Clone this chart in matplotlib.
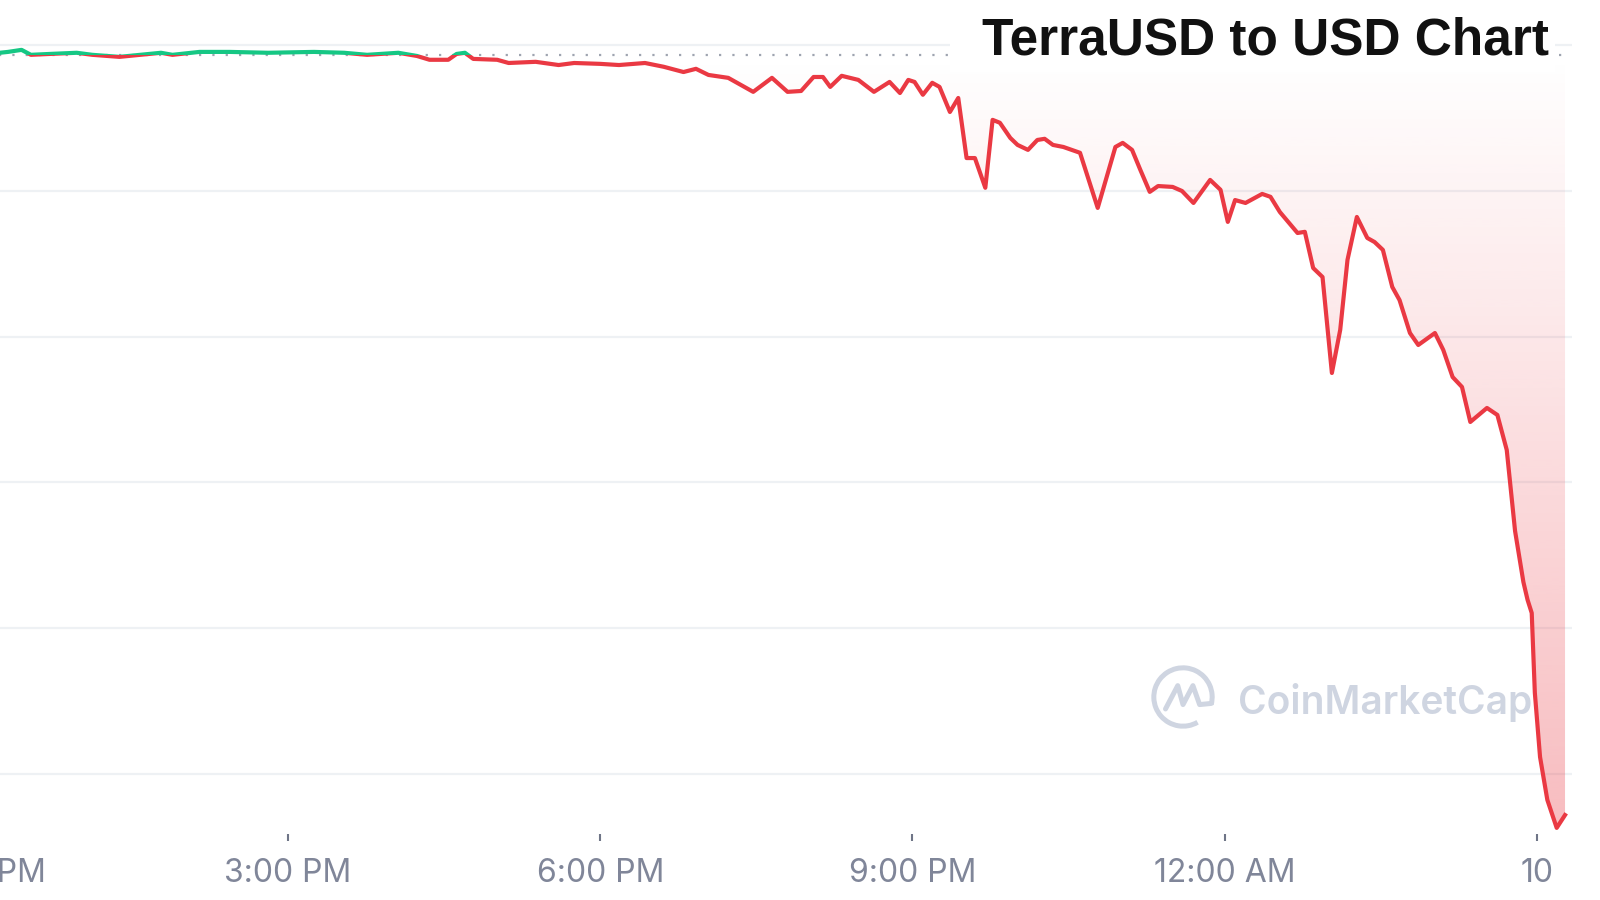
import numpy as np
import matplotlib.pyplot as plt
from matplotlib.patches import Rectangle, Arc
from matplotlib.colors import to_rgb

# hours after 12:00 PM, price in USD
hours = [0.23, 0.31, 0.44, 0.53, 0.71, 0.97, 1.12, 1.38, 1.78, 1.89,
         2.15, 2.44, 2.81, 3.25, 3.54, 3.76, 4.06, 4.24, 4.36, 4.54,
         4.62, 4.70, 4.78, 5.01, 5.12, 5.38, 5.60, 5.75, 6.00, 6.18,
         6.43, 6.61, 6.80, 6.92, 7.04, 7.23, 7.47, 7.65, 7.80, 7.93,
         8.05, 8.14, 8.21, 8.32, 8.48, 8.63, 8.78, 8.88, 8.96, 9.02,
         9.10, 9.19, 9.26, 9.36, 9.44, 9.52, 9.60, 9.70, 9.77, 9.84,
         9.94, 10.01, 10.11, 10.20, 10.27, 10.35, 10.45, 10.61, 10.78, 10.95,
         11.02, 11.11, 11.19, 11.28, 11.36, 11.50, 11.59, 11.70, 11.86, 11.96,
         12.03, 12.10, 12.20, 12.36, 12.44, 12.53, 12.70, 12.77, 12.85, 12.94,
         13.03, 13.11, 13.18, 13.27, 13.37, 13.44, 13.52, 13.61, 13.68, 13.78,
         13.86, 14.02, 14.10, 14.19, 14.28, 14.36, 14.52, 14.62, 14.71, 14.79,
         14.87, 14.91, 14.95, 14.98, 15.03, 15.10, 15.19, 15.27]
price = [0.9973, 0.9976, 0.9983, 0.9966, 0.9969, 0.9973, 0.9966, 0.9959, 0.9973, 0.9966,
         0.9976, 0.9976, 0.9973, 0.9976, 0.9973, 0.9966, 0.9973, 0.9962, 0.9949, 0.9949,
         0.9969, 0.9973, 0.9952, 0.9949, 0.9938, 0.9942, 0.9931, 0.9938, 0.9935, 0.9931,
         0.9938, 0.9925, 0.9907, 0.9918, 0.9897, 0.9887, 0.9839, 0.9887, 0.9839, 0.9842,
         0.9890, 0.9890, 0.9856, 0.9894, 0.9880, 0.9839, 0.9873, 0.9835, 0.9880, 0.9873,
         0.9829, 0.9870, 0.9856, 0.9770, 0.9818, 0.9612, 0.9612, 0.9510, 0.9743, 0.9733,
         0.9681, 0.9657, 0.9640, 0.9674, 0.9678, 0.9657, 0.9650, 0.9630, 0.9441, 0.9650,
         0.9664, 0.9640, 0.9571, 0.9496, 0.9516, 0.9513, 0.9499, 0.9458, 0.9537, 0.9503,
         0.9393, 0.9468, 0.9458, 0.9489, 0.9479, 0.9427, 0.9355, 0.9359, 0.9235, 0.9204,
         0.8875, 0.9023, 0.9263, 0.9410, 0.9338, 0.9324, 0.9297, 0.9170, 0.9125, 0.9012,
         0.8971, 0.9012, 0.8954, 0.8861, 0.8827, 0.8707, 0.8755, 0.8731, 0.8611, 0.8333,
         0.8158, 0.8097, 0.8052, 0.7778, 0.7558, 0.7411, 0.7315, 0.7359]
open_price = 0.9964

tick_hours = [0, 3, 6, 9, 12, 15]
tick_labels = ["12:00 PM", "3:00 PM", "6:00 PM", "9:00 PM", "12:00 AM", "10"]
grid_levels = [1.00, 0.95, 0.90, 0.85, 0.80, 0.75]

RED = "#ea3943"
GREEN = "#16c784"

fig = plt.figure(figsize=(16, 9), dpi=100, facecolor="white")
ax = fig.add_axes([-60 / 1600, 66 / 900, 1632 / 1600, 834 / 900])
x0, x1 = -0.3435, 15.337
y0, y1 = 0.7294, 1.0154

for g in grid_levels:
    ax.axhline(g, color="#eef1f4", lw=1.6, zorder=0)
ax.axhline(open_price, color="#9ea4b0", lw=1.6, ls=(0, (1, 5)), zorder=0.6)

# gradient fill between the line and the opening price
poly = ax.fill_between(hours, np.minimum(price, open_price), open_price,
                       facecolor="none", edgecolor="none")
grad = np.zeros((256, 1, 4))
grad[..., :3] = to_rgb(RED)
grad[:, 0, 3] = np.linspace(0.0, 0.34, 256)
im = ax.imshow(grad, extent=[x0, x1, y0, open_price], aspect="auto",
               origin="upper", zorder=1, interpolation="bilinear")
im.set_clip_path(poly.get_paths()[0], ax.transData)

lg, = ax.plot(hours, price, color=GREEN, lw=3.0, zorder=3, solid_joinstyle="round")
lg.set_clip_path(Rectangle((-5, open_price), 30, 1, transform=ax.transData))
lr, = ax.plot(hours, price, color=RED, lw=3.0, zorder=3, solid_joinstyle="round")
lr.set_clip_path(Rectangle((-5, 0), 30, open_price, transform=ax.transData))

ax.set_xlim(x0, x1)
ax.set_ylim(y0, y1)
ax.set_xticks(tick_hours, tick_labels, family="Inter")
ax.set_yticks([])
ax.tick_params(axis="x", length=5, width=1.5, color="#6f7587",
               labelcolor="#808699", labelsize=23, pad=12)
for s in ax.spines.values():
    s.set_visible(False)

# watermark
ax.text(1238 / 1600, 1 - 702 / 900, "CoinMarketCap", transform=fig.transFigure,
        ha="left", va="center", fontsize=28, fontweight="semibold",
        family="Inter", color="#cfd5e1", zorder=0.5)
lax = fig.add_axes([(1183 - 35) / 1600, (900 - 697 - 35) / 900, 70 / 1600, 70 / 900])
lax.set_xlim(-1.2, 1.2)
lax.set_ylim(-1.2, 1.2)
lax.axis("off")
lax.add_patch(Arc((0, 0), 2, 2, theta1=-15, theta2=300, color="#cfd5e1", lw=3.6))
lax.plot([-0.6, -0.18, 0.0, 0.34, 0.57, 0.97], [-0.41, 0.39, -0.26, 0.39, -0.26, -0.22],
         color="#cfd5e1", lw=3.6, solid_joinstyle="round", solid_capstyle="round")

# title with white backing
fig.add_artist(Rectangle((950 / 1600, 1 - 72 / 900), 605 / 1600, 72 / 900,
                         transform=fig.transFigure, facecolor="white",
                         edgecolor="none", zorder=2))
fig.text(982 / 1600, 1 - 41 / 900, "TerraUSD to USD Chart", ha="left", va="center",
         fontsize=37, fontweight="bold", family="Liberation Sans", color="#111111",
         zorder=3)

fig.savefig("out.png", dpi=100, facecolor="white")
